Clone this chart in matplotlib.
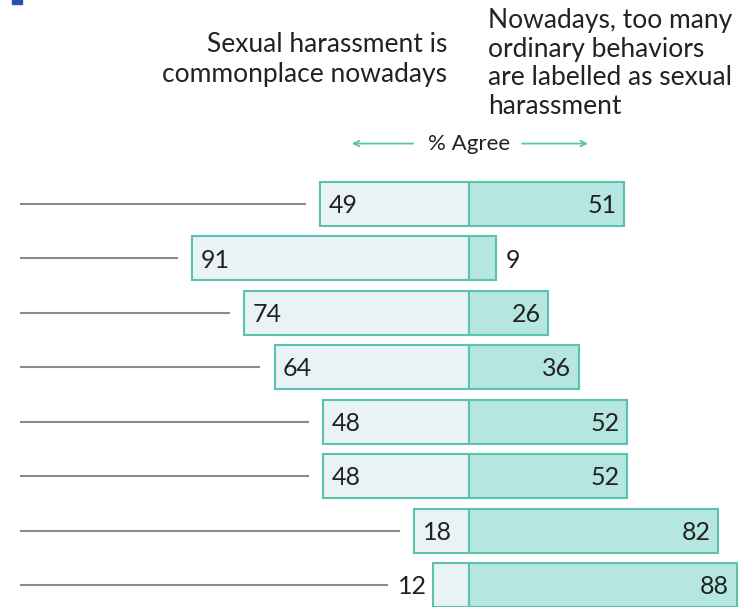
import matplotlib
matplotlib.use("Agg")
import matplotlib.pyplot as plt
from matplotlib.patches import Rectangle

# data
commonplace = [49, 91, 74, 64, 48, 48, 18, 12]
too_many = [51, 9, 26, 36, 52, 52, 82, 88]
left_header = ["Sexual harassment is", "commonplace nowadays"]
right_header = ["Nowadays, too many", "ordinary behaviors",
                "are labelled as sexual", "harassment"]

LEFT_FILL = "#e9f3f5"
RIGHT_FILL = "#b5e6df"
EDGE = "#5cc2b0"
ARROW = "#5cc2b0"
TXT = "#222222"

plt.rcParams['font.family'] = ['Lato', 'DejaVu Sans']

fig = plt.figure(figsize=(7.4, 6.07), dpi=100)
ax = fig.add_axes([0, 0, 1, 1])
ax.set_xlim(-154.3, 89.1)
ax.set_ylim(7.404, -3.748)
ax.axis('off')

h = 0.81
fs = 18
for i, (l, r) in enumerate(zip(commonplace, too_many)):
    ax.barh(i, -l, height=h, color=LEFT_FILL, edgecolor=EDGE, linewidth=1.5)
    ax.barh(i, r, height=h, color=RIGHT_FILL, edgecolor=EDGE, linewidth=1.5)
    # left value label
    if l >= 15:
        ax.text(-l + 2.8, i + 0.03, str(l), ha='left', va='center', fontsize=fs, color=TXT)
        line_end = -l - 4.8
    else:
        ax.text(-l - 1.8, i + 0.03, str(l), ha='right', va='center', fontsize=fs, color=TXT)
        line_end = -l - 14.6
    # right value label
    if r >= 15:
        ax.text(r - 2.5, i + 0.03, str(r), ha='right', va='center', fontsize=fs, color=TXT)
    else:
        ax.text(r + 3, i + 0.03, str(r), ha='left', va='center', fontsize=fs, color=TXT)
    ax.plot([-147.7, line_end], [i, i], color='#8a8a8a', lw=1.5, solid_capstyle='butt')

# % Agree with arrows
ay = -1.11
ax.text(0, ay, "% Agree", ha='center', va='center', fontsize=16, color=TXT)
ax.annotate("", xy=(-39.5, ay), xytext=(-17.5, ay),
            arrowprops=dict(arrowstyle='->', color=ARROW, lw=1.3))
ax.annotate("", xy=(40, ay), xytext=(16.5, ay),
            arrowprops=dict(arrowstyle='->', color=ARROW, lw=1.3))

# headers
for k, s in enumerate(left_header):
    fig.text(447 / 740, 1 - (52 + 30 * k) / 607, s, ha='right', va='baseline',
             fontsize=19, color=TXT)
for k, s in enumerate(right_header):
    fig.text(488 / 740, 1 - (28 + 28.5 * k) / 607, s, ha='left', va='baseline',
             fontsize=19, color=TXT)

# small blue mark at top-left corner
fig.patches.append(Rectangle((12 / 740, 1 - 4 / 607), 10 / 740, 4 / 607,
                             transform=fig.transFigure, color='#2a4db5'))

fig.savefig("out.png", dpi=100)
